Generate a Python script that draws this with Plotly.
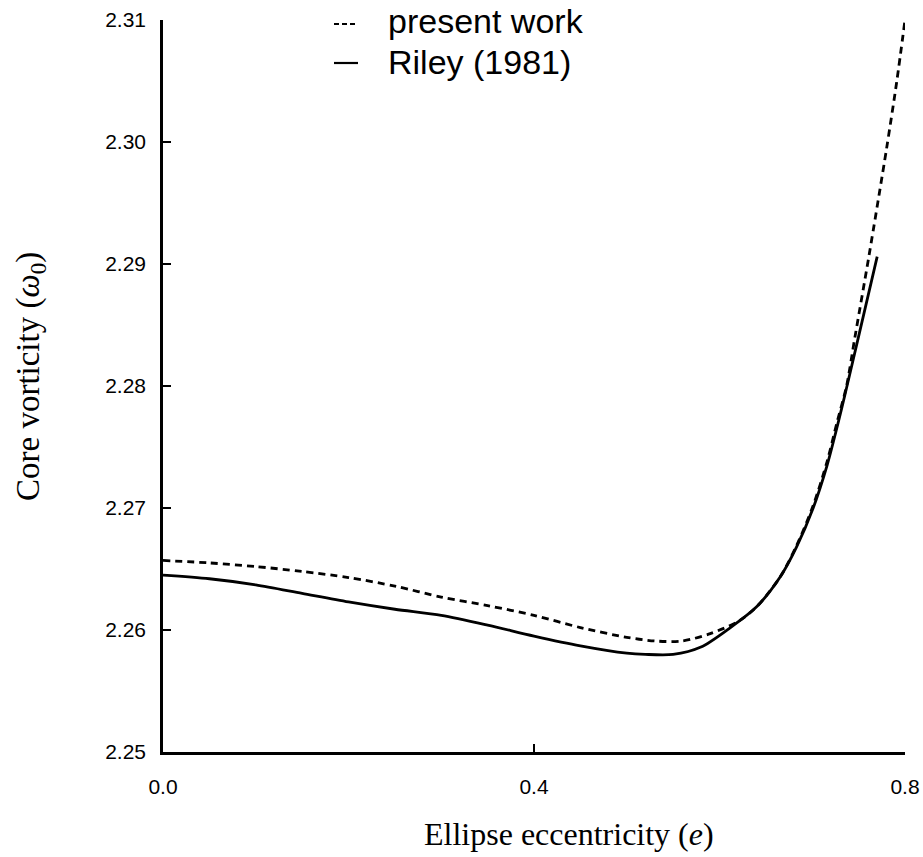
import plotly.graph_objects as go

# present work (dashed)
e_present = [0.0, 0.05, 0.10, 0.15, 0.20, 0.25, 0.30, 0.35, 0.40, 0.45, 0.50, 0.53, 0.56,
             0.59, 0.62, 0.64, 0.665, 0.683, 0.701, 0.716, 0.727, 0.737, 0.746, 0.761,
             0.780, 0.791, 0.800]
w_present = [2.2657, 2.2655, 2.2652, 2.2648, 2.2643, 2.2636, 2.2627, 2.2620, 2.2612, 2.2602,
             2.2594, 2.2591, 2.2591, 2.2597, 2.2607, 2.2619, 2.2643, 2.2669, 2.2702, 2.2738,
             2.2771, 2.2800, 2.2840, 2.2906, 2.2994, 2.3049, 2.3100]

# Riley (1981) (solid)
e_riley = [0.0, 0.05, 0.10, 0.15, 0.20, 0.25, 0.30, 0.35, 0.40, 0.45, 0.50, 0.52, 0.55,
           0.58, 0.61, 0.64, 0.665, 0.683, 0.701, 0.716, 0.727, 0.735, 0.751, 0.770]
w_riley = [2.2645, 2.2642, 2.2637, 2.2630, 2.2623, 2.2617, 2.2612, 2.2604, 2.2595, 2.2587,
           2.2581, 2.2580, 2.2580, 2.2586, 2.2601, 2.2619, 2.2643, 2.2668, 2.2700, 2.2735,
           2.2767, 2.2792, 2.2844, 2.2906]

x_ticks = [0.0, 0.4, 0.8]
x_tick_labels = ["0.0", "0.4", "0.8"]
y_ticks = [2.25, 2.26, 2.27, 2.28, 2.29, 2.30, 2.31]
y_tick_labels = ["2.25", "2.26", "2.27", "2.28", "2.29", "2.30", "2.31"]

legend_names = ["present work", "Riley (1981)"]

W, H = 923, 857
L, R, T, B = 163, 18, 20, 105
PW, PH = W - L - R, H - T - B


def px_x(p):
    return (p - L) / PW


def px_y(p):
    return (H - B - p) / PH


fig = go.Figure()
fig.add_trace(go.Scatter(x=e_present, y=w_present, mode="lines", name=legend_names[0],
                         line=dict(color="black", width=2.8, dash="7px,5px", shape="spline", smoothing=0.8)))
fig.add_trace(go.Scatter(x=e_riley, y=w_riley, mode="lines", name=legend_names[1],
                         line=dict(color="black", width=2.8, shape="spline", smoothing=0.8)))

tickfont = dict(family="Liberation Sans, Arial, sans-serif", size=21, color="black")
fig.update_layout(
    width=W, height=H,
    margin=dict(l=L, r=R, t=T, b=B, autoexpand=False),
    paper_bgcolor="white", plot_bgcolor="white",
    showlegend=False,
    xaxis=dict(range=[0, 0.8], tickvals=x_ticks, ticktext=x_tick_labels, automargin=False,
               showgrid=False, zeroline=False, showline=True, linecolor="black", linewidth=2.5,
               ticks="inside", ticklen=8, tickwidth=2, tickcolor="black",
               tickfont=tickfont, ticklabelstandoff=14),
    yaxis=dict(range=[2.25, 2.31], tickvals=y_ticks, ticktext=y_tick_labels, automargin=False,
               showgrid=False, zeroline=False, showline=True, linecolor="black", linewidth=2.5,
               ticks="inside", ticklen=8, tickwidth=2, tickcolor="black",
               tickfont=tickfont, ticklabelstandoff=10),
)

# legend drawn as short sample lines + labels
legend_font = dict(family="Liberation Sans, Arial, sans-serif", size=34, color="black")
legend_line_y = [24, 63]
legend_line_x = [(334, 355), (334, 358)]
legend_dash = ["5px,3px", "solid"]
for ypix, (xa, xb), dash in zip(legend_line_y, legend_line_x, legend_dash):
    fig.add_shape(type="line", xref="paper", yref="paper",
                  x0=px_x(xa), x1=px_x(xb), y0=px_y(ypix), y1=px_y(ypix),
                  line=dict(color="black", width=2.2, dash=dash))
fig.add_annotation(text=legend_names[0], xref="paper", yref="paper", x=px_x(386), y=px_y(0),
                   xanchor="left", yanchor="top", showarrow=False, font=legend_font)
fig.add_annotation(text=legend_names[1], xref="paper", yref="paper", x=px_x(386), y=px_y(62),
                   xanchor="left", yanchor="middle", showarrow=False, font=legend_font)

serif = dict(family="Liberation Serif, DejaVu Serif, serif", size=32, color="black")
fig.add_annotation(text="Ellipse eccentricity (<i>e</i>)", xref="paper", yref="paper",
                   x=px_x(569), y=px_y(834), xanchor="center", yanchor="middle",
                   showarrow=False, font=serif)
fig.add_annotation(text="Core vorticity (<i>ω</i><sub>0</sub>)", xref="paper", yref="paper",
                   x=px_x(30), y=px_y(377), xanchor="center", yanchor="middle",
                   textangle=-90, showarrow=False, font=dict(serif, size=33))

fig.write_html("out.html", config={"displayModeBar": False},
               post_script="document.body.style.margin='0px';")
